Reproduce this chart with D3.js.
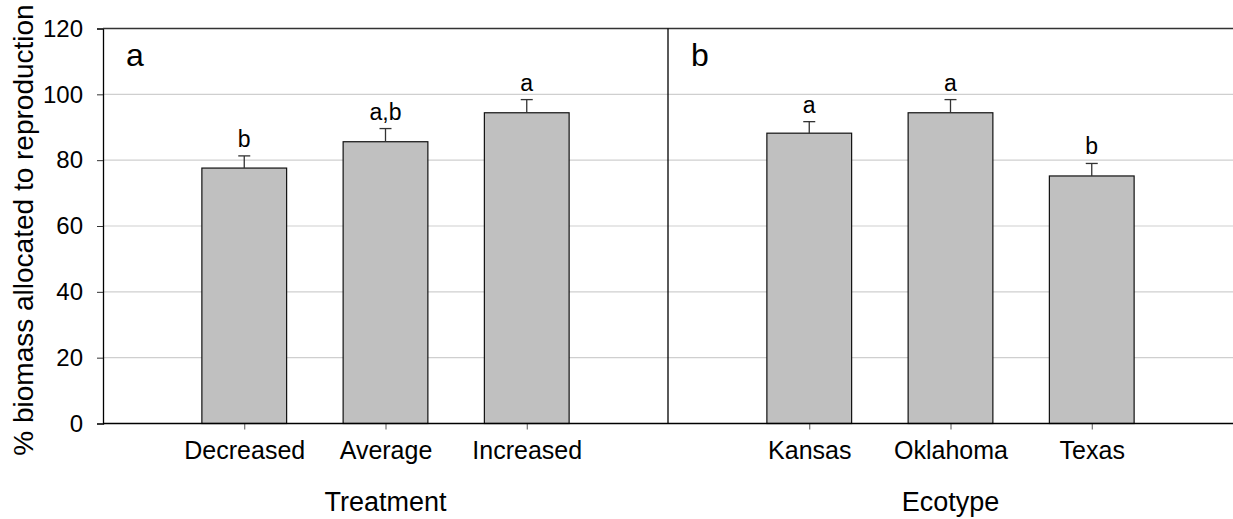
<!DOCTYPE html>
<html>
<head>
<meta charset="utf-8">
<script src="https://cdn.jsdelivr.net/npm/d3@7"></script>
<style>
  html, body { margin: 0; padding: 0; background: #fff; }
  svg { display: block; font-family: Arial, "Liberation Sans", sans-serif; }
</style>
</head>
<body>
<svg id="chart" width="1233" height="519"></svg>
<script>
// Panel a: precipitation treatment
const treatments = ["Decreased", "Average", "Increased"];
const treatmentMeans = [77.6, 85.6, 94.4];
const treatmentSE = [3.7, 4.0, 4.0];
const treatmentLetters = ["b", "a,b", "a"];

// Panel b: ecotype
const ecotypes = ["Kansas", "Oklahoma", "Texas"];
const ecotypeMeans = [88.2, 94.4, 75.2];
const ecotypeSE = [3.5, 4.0, 3.8];
const ecotypeLetters = ["a", "a", "b"];

const yTicks = [0, 20, 40, 60, 80, 100, 120];

const svg = d3.select("#chart");
const plotLeft = 103, plotRight = 1233, plotTop = 28.5, plotBottom = 423.5;
const divider = (plotLeft + plotRight) / 2;

const y = d3.scaleLinear().domain([0, 120]).range([plotBottom, plotTop]);

// horizontal grid lines
svg.append("g")
  .selectAll("line")
  .data(yTicks.filter(t => t > 0 && t < 120))
  .join("line")
  .attr("x1", plotLeft).attr("x2", plotRight)
  .attr("y1", d => y(d)).attr("y2", d => y(d))
  .attr("stroke", "#cfcfcf").attr("stroke-width", 1.2);

// y axis
const yAxis = d3.axisLeft(y).tickValues(yTicks).tickSize(6).tickPadding(14);
const gy = svg.append("g").attr("transform", `translate(${plotLeft},0)`).call(yAxis);
gy.select(".domain").attr("stroke", "#000").attr("stroke-width", 1.3);
gy.selectAll(".tick line").attr("stroke", "#333");
gy.selectAll(".tick text").attr("font-size", 24).attr("fill", "#000")
  .attr("font-family", "Arial, 'Liberation Sans', sans-serif");

// y axis title
svg.append("text")
  .attr("transform", `translate(33,${(plotTop + plotBottom) / 2 + 4}) rotate(-90)`)
  .attr("text-anchor", "middle")
  .attr("font-size", 28)
  .text("% biomass allocated to reproduction");

function panel(x0, x1, cats, means, se, letters, label, title) {
  const x = d3.scalePoint().domain(cats).range([x0, x1]).padding(1);
  const bw = x.step() * 0.6;
  const g = svg.append("g");

  // bars
  g.selectAll("rect.bar")
    .data(cats)
    .join("rect")
    .attr("class", "bar")
    .attr("x", d => x(d) - bw / 2)
    .attr("width", bw)
    .attr("y", (d, i) => y(means[i]))
    .attr("height", (d, i) => y(0) - y(means[i]))
    .attr("fill", "#c0c0c0")
    .attr("stroke", "#111")
    .attr("stroke-width", 1.2);

  // upper error bars
  g.selectAll("line.err")
    .data(cats)
    .join("line")
    .attr("class", "err")
    .attr("x1", d => x(d)).attr("x2", d => x(d))
    .attr("y1", (d, i) => y(means[i]))
    .attr("y2", (d, i) => y(means[i] + se[i]))
    .attr("stroke", "#333").attr("stroke-width", 1.3);
  g.selectAll("line.cap")
    .data(cats)
    .join("line")
    .attr("class", "cap")
    .attr("x1", d => x(d) - 6).attr("x2", d => x(d) + 6)
    .attr("y1", (d, i) => y(means[i] + se[i]))
    .attr("y2", (d, i) => y(means[i] + se[i]))
    .attr("stroke", "#333").attr("stroke-width", 1.3);

  // significance letters
  g.selectAll("text.sig")
    .data(cats)
    .join("text")
    .attr("class", "sig")
    .attr("x", d => x(d))
    .attr("y", (d, i) => y(means[i] + se[i]) - 9)
    .attr("text-anchor", "middle")
    .attr("font-size", 23)
    .text((d, i) => letters[i]);

  // x axis
  const xAxis = d3.axisBottom(x).tickSize(6).tickPadding(12);
  const gx = g.append("g").attr("transform", `translate(0,${plotBottom})`).call(xAxis);
  gx.select(".domain").remove();
  gx.selectAll(".tick line").attr("stroke", "#555");
  gx.selectAll(".tick text").attr("font-size", 25).attr("fill", "#000")
    .attr("font-family", "Arial, 'Liberation Sans', sans-serif");

  // panel label
  g.append("text")
    .attr("x", x0 + 23).attr("y", 66)
    .attr("font-size", 32)
    .text(label);

  // axis title
  g.append("text")
    .attr("x", (x0 + x1) / 2).attr("y", 511)
    .attr("text-anchor", "middle")
    .attr("font-size", 27)
    .text(title);
}

panel(plotLeft, divider, treatments, treatmentMeans, treatmentSE, treatmentLetters, "a", "Treatment");
panel(divider, plotRight, ecotypes, ecotypeMeans, ecotypeSE, ecotypeLetters, "b", "Ecotype");

// frame: top line, bottom axis line, panel divider
svg.append("line").attr("x1", plotLeft).attr("x2", plotRight)
  .attr("y1", plotTop).attr("y2", plotTop).attr("stroke", "#333").attr("stroke-width", 1.3);
svg.append("line").attr("x1", plotLeft).attr("x2", plotRight)
  .attr("y1", plotBottom).attr("y2", plotBottom).attr("stroke", "#000").attr("stroke-width", 1.3);
svg.append("line").attr("x1", divider).attr("x2", divider)
  .attr("y1", plotTop).attr("y2", plotBottom).attr("stroke", "#000").attr("stroke-width", 1.3);
</script>
</body>
</html>
